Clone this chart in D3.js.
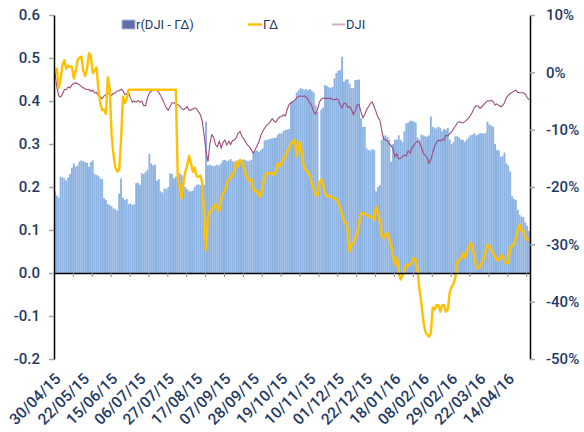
<!DOCTYPE html>
<html>
<head>
<meta charset="utf-8">
<script src="https://cdn.jsdelivr.net/npm/d3@7"></script>
<style>
  body { margin: 0; background: #fff; }
  svg { display: block; font-family: Roboto, "Open Sans", sans-serif; }
</style>
</head>
<body>
<svg id="chart" width="584" height="432"></svg>
<script>
// x-axis labels, one every 15 trading days
var dateLabels = ["30/04/15","22/05/15","15/06/15","06/07/15","27/07/15","17/08/15","07/09/15","28/09/15","19/10/15",
  "10/11/15","01/12/15","22/12/15","18/01/16","08/02/16","29/02/16","22/03/16","14/04/16"]
var leftTicks = [0.6, 0.5, 0.4, 0.3, 0.2, 0.1, 0.0, -0.1, -0.2]
var rightTicks = [0.1, 0, -0.1, -0.2, -0.3, -0.4, -0.5]

// r(DJI - ΓΔ), bars, left axis
var corr = [
  0.19,0.18,0.175,0.224,0.222,0.22,0.215,0.222,0.23,0.245,
  0.255,0.247,0.25,0.259,0.262,0.26,0.258,0.256,0.247,0.258,
  0.262,0.23,0.228,0.226,0.22,0.218,0.174,0.17,0.16,0.158,
  0.155,0.15,0.148,0.145,0.185,0.22,0.175,0.17,0.172,0.16,
  0.162,0.158,0.16,0.209,0.21,0.205,0.232,0.23,0.235,0.24,
  0.277,0.255,0.25,0.252,0.215,0.218,0.19,0.187,0.197,0.195,
  0.2,0.232,0.23,0.22,0.224,0.224,0.232,0.228,0.224,0.2,
  0.195,0.19,0.19,0.192,0.2,0.205,0.206,0.204,0.21,0.205,
  0.352,0.25,0.252,0.25,0.248,0.25,0.252,0.25,0.255,0.262,
  0.263,0.26,0.262,0.265,0.26,0.258,0.26,0.262,0.26,0.263,
  0.264,0.262,0.26,0.261,0.263,0.28,0.283,0.285,0.282,0.286,
  0.29,0.308,0.31,0.31,0.312,0.313,0.314,0.315,0.322,0.325,
  0.324,0.33,0.333,0.333,0.335,0.398,0.4,0.402,0.42,0.425,
  0.43,0.428,0.426,0.428,0.425,0.428,0.424,0.42,0.39,0.375,
  0.21,0.38,0.385,0.437,0.435,0.432,0.43,0.433,0.453,0.465,
  0.47,0.472,0.503,0.445,0.45,0.45,0.44,0.43,0.43,0.449,
  0.449,0.45,0.36,0.34,0.34,0.29,0.286,0.285,0.288,0.286,
  0.19,0.2,0.205,0.31,0.318,0.32,0.316,0.31,0.259,0.3,
  0.31,0.31,0.32,0.31,0.305,0.33,0.348,0.35,0.354,0.354,
  0.352,0.35,0.315,0.31,0.322,0.32,0.318,0.317,0.32,0.364,
  0.34,0.338,0.336,0.34,0.337,0.33,0.335,0.333,0.338,0.31,
  0.3,0.305,0.318,0.318,0.315,0.31,0.31,0.305,0.31,0.315,
  0.32,0.322,0.325,0.32,0.322,0.325,0.325,0.324,0.326,0.352,
  0.345,0.343,0.34,0.3,0.286,0.285,0.27,0.272,0.28,0.255,
  0.25,0.236,0.178,0.172,0.17,0.147,0.135,0.131,0.13,0.118,
  0.11,0.098]

// ΓΔ, yellow line, left axis
var gammaDelta = [
  0.468,0.475,0.43,0.45,0.485,0.495,0.475,0.482,0.479,0.48,
  0.452,0.47,0.495,0.501,0.503,0.47,0.458,0.475,0.511,0.505,
  0.465,0.472,0.478,0.426,0.395,0.379,0.38,0.37,0.455,0.43,
  0.32,0.275,0.245,0.236,0.24,0.31,0.41,0.395,0.405,0.426,
  0.426,0.426,0.426,0.426,0.426,0.426,0.426,0.426,0.426,0.426,
  0.426,0.426,0.426,0.426,0.426,0.426,0.426,0.426,0.426,0.426,
  0.426,0.426,0.426,0.426,0.426,0.224,0.2,0.174,0.21,0.235,
  0.25,0.272,0.255,0.235,0.245,0.225,0.224,0.226,0.21,0.13,
  0.053,0.13,0.143,0.145,0.155,0.16,0.15,0.145,0.17,0.185,
  0.19,0.21,0.216,0.226,0.225,0.238,0.259,0.248,0.263,0.259,
  0.245,0.228,0.22,0.214,0.217,0.196,0.19,0.19,0.18,0.178,
  0.205,0.22,0.233,0.232,0.232,0.232,0.228,0.238,0.255,0.248,
  0.255,0.265,0.272,0.283,0.29,0.3,0.307,0.309,0.27,0.305,
  0.3,0.265,0.245,0.237,0.235,0.225,0.208,0.195,0.184,0.18,
  0.21,0.218,0.205,0.186,0.178,0.18,0.178,0.175,0.172,0.172,
  0.163,0.152,0.136,0.12,0.115,0.1,0.05,0.065,0.07,0.08,
  0.09,0.115,0.138,0.14,0.137,0.134,0.133,0.131,0.131,0.123,
  0.154,0.14,0.12,0.087,0.082,0.09,0.092,0.08,0.065,0.04,
  0.02,0.035,0.0,-0.015,-0.005,0.005,0.02,0.017,0.02,0.025,
  0.035,0.03,0.005,-0.04,-0.07,-0.11,-0.136,-0.143,-0.148,-0.14,
  -0.08,-0.085,-0.075,-0.075,-0.09,-0.075,-0.075,-0.09,-0.085,-0.045,
  -0.032,-0.025,-0.01,0.026,0.03,0.034,0.046,0.035,0.05,0.058,
  0.07,0.062,0.04,0.016,0.011,0.015,0.023,0.035,0.05,0.065,
  0.062,0.054,0.046,0.038,0.03,0.03,0.04,0.04,0.028,0.022,
  0.025,0.061,0.062,0.068,0.08,0.1,0.112,0.1,0.097,0.085,
  0.077,0.077]

// DJI cumulative return in %, right axis
var dji = [
  0,-2.6,-4.1,-4.3,-3.8,-3.0,-3.0,-2.6,-2.7,-2.2,
  -1.9,-1.85,-2.0,-2.15,-2.5,-2.7,-2.9,-3.0,-3.0,-3.3,
  -3.1,-3.6,-3.5,-4.0,-4.3,-4.6,-4.1,-3.9,-3.6,-3.75,
  -4.0,-3.7,-3.55,-3.25,-3.2,-2.95,-3.2,-3.9,-3.7,-3.6,
  -4.5,-5.2,-5.0,-5.2,-4.9,-5.2,-5.0,-5.8,-5.8,-4.4,
  -3.6,-3.3,-3.1,-3.1,-3.2,-3.5,-4.1,-4.7,-5.5,-6.2,
  -6.6,-5.9,-5.3,-5.3,-5.6,-5.6,-5.9,-6.3,-6.5,-6.3,
  -6.0,-6.6,-6.6,-6.4,-6.2,-6.4,-6.9,-7.4,-8.5,-11.0,
  -13.8,-15.6,-12.5,-10.9,-11.3,-12.6,-13.0,-12.0,-13.2,-12.2,
  -11.8,-12.7,-12.0,-12.6,-11.9,-11.8,-11.4,-10.6,-10.3,-11.2,
  -11.6,-12.2,-12.7,-13.0,-13.5,-14.1,-13.5,-12.8,-12.1,-11.0,
  -10.3,-9.7,-9.3,-9.0,-8.6,-8.1,-8.5,-8.7,-8.1,-7.8,
  -7.7,-7.4,-7.6,-6.4,-5.6,-5.3,-5.1,-4.9,-4.4,-4.2,
  -4.1,-4.2,-4.1,-4.3,-4.8,-5.3,-5.9,-6.9,-7.3,-6.5,
  -5.2,-4.7,-4.5,-4.55,-4.55,-4.55,-4.55,-4.7,-4.8,-4.6,
  -4.8,-5.7,-6.2,-5.4,-5.4,-6.1,-6.0,-6.5,-7.4,-6.7,
  -5.7,-5.6,-6.9,-7.9,-7.4,-6.5,-6.0,-5.4,-5.2,-6.0,
  -6.9,-7.85,-8.3,-10.1,-11.6,-11.8,-11.9,-12.5,-12.8,-13.4,
  -14.7,-14.2,-15.1,-15.0,-14.7,-14.4,-14.6,-13.7,-14.1,-13.2,
  -12.7,-12.3,-12.0,-12.2,-13.1,-14.1,-14.5,-14.8,-15.8,-15.3,
  -14.0,-12.9,-12.2,-11.8,-12.0,-11.7,-11.8,-11.0,-11.1,-10.7,
  -10.4,-9.8,-9.4,-8.8,-8.6,-8.8,-8.8,-8.6,-8.3,-8.0,
  -7.5,-6.9,-6.2,-5.8,-5.9,-6.3,-6.0,-5.65,-5.3,-4.95,
  -5.0,-4.9,-5.1,-5.7,-5.5,-5.8,-6.0,-5.8,-5.3,-4.4,
  -4.0,-3.7,-3.5,-3.3,-3.1,-3.5,-3.55,-3.55,-3.55,-3.8,
  -4.4,-4.8]

var textColor = "#1f3a66"
var barColor = "#8db3e2"
var gdColor = "#ffc000"
var djiColor = "#9e4a7e"

var svg = d3.select("#chart")
var n = corr.length
var plotLeft = 54, plotRight = 530, plotTop = 15, plotBottom = 359

var x = d3.scaleBand().domain(d3.range(n)).range([plotLeft, plotRight]).padding(0)
var xEdge = d3.scaleLinear().domain([0, n]).range([plotLeft, plotRight])
var yL = d3.scaleLinear().domain([-0.2, 0.6]).range([plotBottom, plotTop])
var yR = d3.scaleLinear().domain([-0.5, 0.1]).range([plotBottom, plotTop])

// bars
svg.append("g").selectAll("rect")
  .data(corr)
  .enter().append("rect")
  .attr("x", function(d, i) { return x(i) })
  .attr("width", x.bandwidth())
  .attr("y", function(d) { return yL(Math.max(d, 0)) })
  .attr("height", function(d) { return Math.abs(yL(d) - yL(0)) })
  .attr("fill", barColor)

// lines
var djiLine = d3.line()
  .x(function(d, i) { return x(i) + x.bandwidth() / 2 })
  .y(function(d) { return yR(d / 100) })
svg.append("path").datum(dji)
  .attr("d", djiLine)
  .attr("fill", "none").attr("stroke", djiColor).attr("stroke-width", 1.1)

var gdLine = d3.line()
  .x(function(d, i) { return x(i) + x.bandwidth() / 2 })
  .y(function(d) { return yL(d) })
svg.append("path").datum(gammaDelta)
  .attr("d", gdLine)
  .attr("fill", "none").attr("stroke", gdColor).attr("stroke-width", 2.4)
  .attr("stroke-linejoin", "round")

// category axis at zero
var xAxis = svg.append("g")
  .attr("transform", "translate(0," + yL(0) + ")")
  .call(d3.axisBottom(xEdge).tickValues(d3.range(0, n + 1, 10)).tickFormat("").tickSize(4).tickSizeOuter(0))
xAxis.select(".domain").attr("stroke", "#000").attr("stroke-width", 1.5)
xAxis.selectAll(".tick line").attr("stroke", "#8c8c8c")

// date labels at the bottom
svg.append("g").selectAll("text")
  .data(dateLabels)
  .enter().append("text")
  .attr("transform", function(d, k) {
    return "translate(" + (x(k * 15) + x.bandwidth() / 2 + 3) + ",376) rotate(-45)"
  })
  .attr("text-anchor", "end")
  .attr("dy", "0.35em")
  .attr("font-size", 15.5)
  .attr("font-weight", 500)
  .attr("fill", textColor)
  .text(function(d) { return d })

// left axis
var yAxisL = svg.append("g")
  .attr("transform", "translate(" + plotLeft + ",0)")
  .call(d3.axisLeft(yL).tickValues(leftTicks).tickFormat(function(d) { return d.toFixed(1) }).tickSize(5).tickSizeOuter(0).tickPadding(9))
yAxisL.select(".domain").attr("stroke", "#000").attr("stroke-width", 1.5)
yAxisL.selectAll(".tick line").attr("stroke", "#a6a6a6").attr("stroke-width", 1.5)
yAxisL.selectAll("text").attr("font-size", 15).attr("font-weight", 500).attr("fill", textColor)
  .attr("font-family", "Roboto, 'Open Sans', sans-serif")

// right axis
var yAxisR = svg.append("g")
  .attr("transform", "translate(" + plotRight + ",0)")
  .call(d3.axisRight(yR).tickValues(rightTicks).tickFormat(function(d) { return (d * 100).toFixed(0) + "%" }).tickSize(5).tickSizeOuter(0).tickPadding(11))
yAxisR.select(".domain").attr("stroke", "#000").attr("stroke-width", 1.5)
yAxisR.selectAll(".tick line").attr("stroke", "#a6a6a6").attr("stroke-width", 1.5)
yAxisR.selectAll("text").attr("font-size", 15).attr("font-weight", 500).attr("fill", textColor)
  .attr("font-family", "Roboto, 'Open Sans', sans-serif")

// legend
var legend = svg.append("g").attr("font-size", 13).attr("fill", textColor)
legend.append("rect").attr("x", 122).attr("y", 20).attr("width", 13).attr("height", 9)
  .attr("fill", "#626da6").attr("stroke", "#a9bde6").attr("stroke-width", 1)
legend.append("text").attr("x", 136).attr("y", 29).text("r(DJI - ΓΔ)")
legend.append("line").attr("x1", 248).attr("x2", 262).attr("y1", 24.5).attr("y2", 24.5)
  .attr("stroke", gdColor).attr("stroke-width", 2.4)
legend.append("text").attr("x", 263).attr("y", 29).text("ΓΔ")
legend.append("line").attr("x1", 332).attr("x2", 345).attr("y1", 24.5).attr("y2", 24.5)
  .attr("stroke", "#d4aec3").attr("stroke-width", 2)
legend.append("text").attr("x", 346).attr("y", 29).text("DJI")
</script>
</body>
</html>
